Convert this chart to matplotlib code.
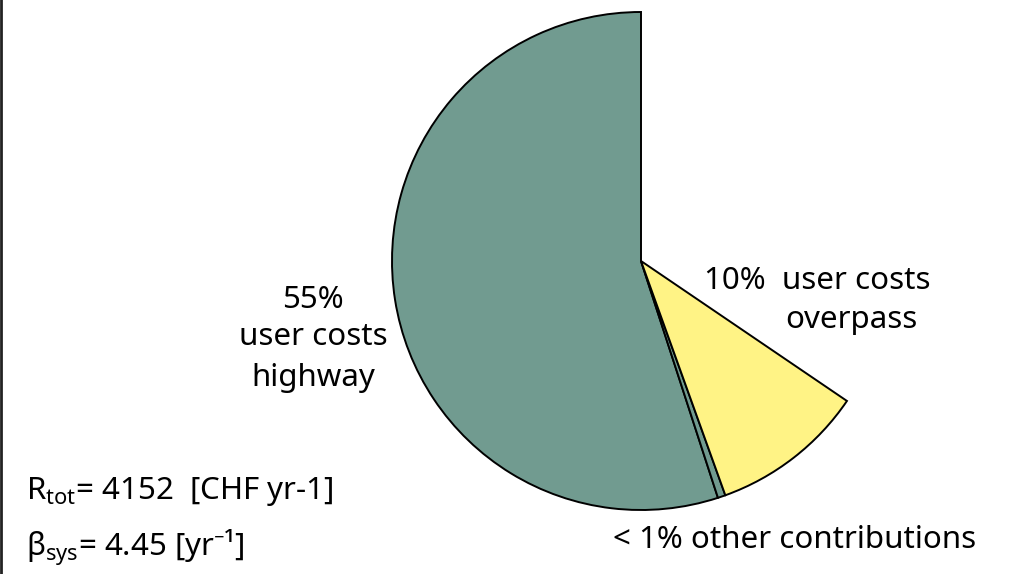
import matplotlib.pyplot as plt

plt.rcParams['font.family'] = ['Noto Sans', 'DejaVu Sans']
plt.rcParams['mathtext.fontset'] = 'custom'
plt.rcParams['mathtext.rm'] = 'Noto Sans'
plt.rcParams['mathtext.it'] = 'Noto Sans'

# share of total cost (remaining part of the circle left blank)
shares = [0.55, 0.005, 0.10]
colors = ['#719b90', '#719b90', '#fff385']

W, H = 1011, 574
fig = plt.figure(figsize=(W / 100, H / 100), dpi=100)
ax = fig.add_axes([0, 0, 1, 1])

# centre of pie at (641, 261) px, radius 249 px
cx, cy, r = 641, 261, 249

ax.pie(shares, colors=colors, startangle=90, counterclock=True,
       normalize=False, radius=1.0,
       wedgeprops=dict(edgecolor='black', linewidth=1.4))
ax.set_xlim(-cx / r, (W - cx) / r)
ax.set_ylim(-(H - cy) / r, cy / r)
ax.set_aspect('auto')
ax.axis('off')


def px(x, y):
    return x / W, 1 - y / H


fs = 22.5
fig.text(*px(313, 300), '55%', ha='center', va='center', fontsize=fs)
fig.text(*px(313, 337), 'user costs', ha='center', va='center', fontsize=fs)
fig.text(*px(313, 378), 'highway', ha='center', va='center', fontsize=fs)

fig.text(*px(704, 281), '10%  user costs', ha='left', va='center', fontsize=fs)
fig.text(*px(851, 320), 'overpass', ha='center', va='center', fontsize=fs)

fig.text(*px(613, 540), '< 1% other contributions', ha='left', va='center', fontsize=fs)

fig.text(*px(26, 492), r'R$_{\mathrm{tot}}$= 4152  [CHF yr-1]', ha='left', va='center', fontsize=fs)
fig.text(*px(26, 548), r'$\beta_{\mathrm{sys}}$= 4.45 [yr⁻¹]', ha='left', va='center', fontsize=fs)

# left frame line
fig.add_artist(plt.Line2D([0.001, 0.001], [0, 1], color='#222222', linewidth=2))

fig.savefig('out.png', dpi=100)
